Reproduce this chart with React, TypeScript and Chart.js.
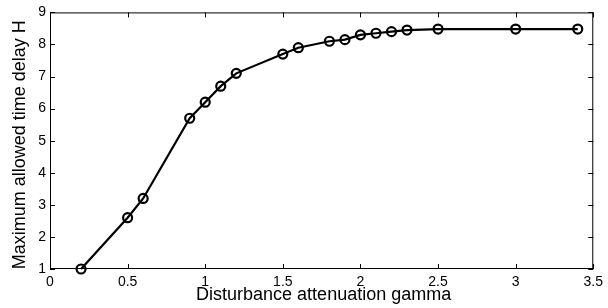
import React, { useEffect, useRef } from "react";
import { Chart, registerables } from "chart.js";

Chart.register(...registerables);

const gammaValues = [0.2, 0.5, 0.6, 0.9, 1.0, 1.1, 1.2, 1.5, 1.6, 1.8, 1.9, 2.0, 2.1, 2.2, 2.3, 2.5, 3.0, 3.4];
const delayValues = [1.0, 2.6, 3.2, 5.7, 6.2, 6.7, 7.1, 7.7, 7.9, 8.1, 8.15, 8.3, 8.35, 8.4, 8.45, 8.48, 8.48, 8.48];
const xTicks = [0, 0.5, 1, 1.5, 2, 2.5, 3, 3.5];
const yTicks = [1, 2, 3, 4, 5, 6, 7, 8, 9];
const xTitle = "Disturbance attenuation gamma";
const yTitle = "Maximum allowed time delay H";

const FONT = "'Liberation Sans', Arial, sans-serif";

const boxPlugin = {
  id: "matlabBox",
  afterDraw(chart: any) {
    const { ctx, chartArea } = chart;
    const { left, right, top, bottom } = chartArea;
    const xs = chart.scales.x;
    const ys = chart.scales.y;
    ctx.save();
    ctx.strokeStyle = "#000";
    ctx.lineWidth = 1;
    ctx.strokeRect(left + 0.5, top + 0.5, right - left - 1, bottom - top - 1);
    const tl = 5;
    ctx.beginPath();
    xTicks.forEach((v) => {
      const px = Math.round(xs.getPixelForValue(v)) + 0.5;
      ctx.moveTo(px, bottom);
      ctx.lineTo(px, bottom - tl);
      ctx.moveTo(px, top);
      ctx.lineTo(px, top + tl);
    });
    yTicks.forEach((v) => {
      const py = Math.round(ys.getPixelForValue(v)) + 0.5;
      ctx.moveTo(left, py);
      ctx.lineTo(left + tl, py);
      ctx.moveTo(right, py);
      ctx.lineTo(right - tl, py);
    });
    ctx.stroke();
    ctx.fillStyle = "#000";
    ctx.font = `18px ${FONT}`;
    ctx.textAlign = "center";
    ctx.textBaseline = "middle";
    ctx.fillText(xTitle, (left + right) / 2 + 2, 295);
    ctx.translate(20, (top + bottom) / 2 + 4);
    ctx.rotate(-Math.PI / 2);
    ctx.fillText(yTitle, 0, 0);
    ctx.restore();
  },
};

export default function App() {
  const ref = useRef<HTMLCanvasElement>(null);
  useEffect(() => {
    if (!ref.current) return;
    const chart = new Chart(ref.current, {
      type: "line",
      data: {
        datasets: [
          {
            data: gammaValues.map((g, i) => ({ x: g, y: delayValues[i] })),
            borderColor: "#000",
            borderWidth: 2.2,
            pointRadius: 4.5,
            pointBorderWidth: 2.2,
            pointBackgroundColor: "rgba(0,0,0,0)",
            pointBorderColor: "#000",
            tension: 0,
            fill: false,
            clip: false as any,
          },
        ],
      },
      options: {
        animation: false,
        responsive: false,
        layout: { padding: { top: 12, right: 11, left: 0, bottom: 0 }, autoPadding: false },
        plugins: { legend: { display: false }, tooltip: { enabled: false } },
        scales: {
          x: {
            type: "linear",
            min: 0,
            max: 3.5,
            afterFit: (s: any) => { s.height = 39; },
            afterBuildTicks: (s: any) => { s.ticks = xTicks.map((v) => ({ value: v })); },
            grid: { display: false, drawTicks: false },
            border: { display: false },
            ticks: { color: "#000", font: { family: FONT, size: 14 }, padding: 5, maxRotation: 0, autoSkip: false, callback: (v: any) => String(v) },
          },
          y: {
            type: "linear",
            min: 1,
            max: 9,
            afterFit: (s: any) => { s.width = 50; },
            afterBuildTicks: (s: any) => { s.ticks = yTicks.map((v) => ({ value: v })); },
            grid: { display: false, drawTicks: false },
            border: { display: false },
            ticks: { color: "#000", font: { family: FONT, size: 14 }, padding: 4, autoSkip: false, callback: (v: any) => String(v) },
          },
        },
      },
      plugins: [boxPlugin],
    });
    return () => chart.destroy();
  }, []);
  return (
    <div style={{ position: "absolute", left: 0, top: 0, width: 608, height: 308, background: "#fff" }}>
      <canvas ref={ref} width={608} height={308} />
    </div>
  );
}
